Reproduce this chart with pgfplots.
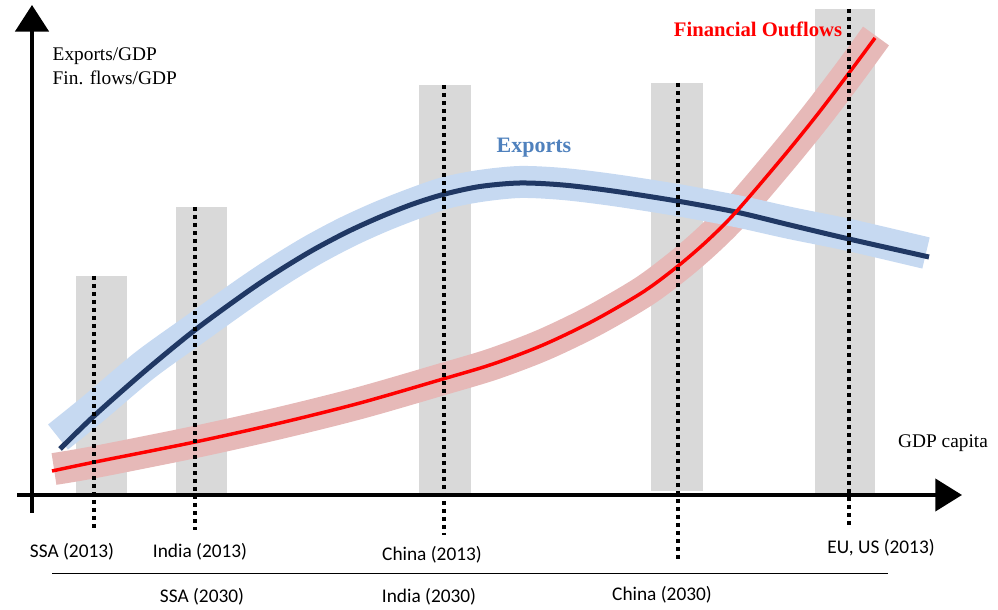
\documentclass[border=0pt]{standalone}
\usepackage{pgfplots}
\pgfplotsset{compat=1.18}
\usepackage{fontspec}
\setmainfont{Liberation Serif}
\newfontfamily\calib{Carlito}
\usetikzlibrary{arrows.meta}
\definecolor{barg}{HTML}{D9D9D9}
\definecolor{navy}{HTML}{203864}
\definecolor{bband}{HTML}{C6D9F1}
\definecolor{pband}{HTML}{E6B9B8}
\definecolor{expblue}{HTML}{4F81BD}
\definecolor{fred}{HTML}{FF0000}
\begin{document}
\begin{tikzpicture}
\begin{axis}[x=0.75pt, y=0.75pt, xmin=0, xmax=998, ymin=0, ymax=608,
  hide axis, clip=false]
\path (axis cs:0,0) rectangle (axis cs:998,608);
% bars
\addplot[fill=barg, draw=none] coordinates {(76,115) (127,115) (127,332) (76,332)} --cycle;
\addplot[fill=barg, draw=none] coordinates {(176,115) (227,115) (227,401) (176,401)} --cycle;
\addplot[fill=barg, draw=none] coordinates {(419,115) (471,115) (471,523) (419,523)} --cycle;
\addplot[fill=barg, draw=none] coordinates {(651,117) (703,117) (703,525) (651,525)} --cycle;
\addplot[fill=barg, draw=none] coordinates {(815,115) (875,115) (875,599) (815,599)} --cycle;
% bands
\addplot[pband, line width=24pt, smooth, tension=0.5] coordinates {
(54,139) (95,146) (195,166) (280,185) (360,205) (443,229) (493,244) (543,263) (593,287) (643,316) (678,342) (707,367) (736,396) (783,451) (817,493) (849,535) (876,572)};
\addplot[bband, line width=24pt, smooth, tension=0.5] coordinates {
(58,171) (94,200) (145,243) (195,279) (247,316) (280,338) (313,358) (347,376) (380,391) (413,404) (445,415) (480,422) (520,426) (563,424) (613,418) (677,408) (736,397) (790,385) (849,373) (926,355)};
% lines
\addplot[navy, line width=3.75pt, smooth, tension=0.5] coordinates {
(60,159) (94,192) (145,237) (195,278) (247,316) (280,338) (313,358) (347,376) (380,391) (413,404) (445,414) (480,421.5) (520,425) (563,423) (613,417) (677,407) (736,396) (790,383) (849,369) (929,351)};
\addplot[fred, line width=2.6pt, smooth, tension=0.5] coordinates {
(52,137) (95,146) (195,166) (280,185) (360,205) (443,229) (493,244) (543,263) (593,287) (643,316) (678,342) (707,367) (736,396) (783,451) (817,493) (849,535) (875,570)};
% dotted verticals
\addplot[black, line width=3pt, dash pattern=on 3pt off 3pt] coordinates {(94,332) (94,78)};
\addplot[black, line width=3pt, dash pattern=on 3pt off 3pt] coordinates {(195,401) (195,78)};
\addplot[black, line width=3pt, dash pattern=on 3pt off 3pt] coordinates {(444,523) (444,73)};
\addplot[black, line width=3pt, dash pattern=on 3pt off 3pt] coordinates {(678,525) (678,46)};
\addplot[black, line width=3pt, dash pattern=on 3pt off 3pt] coordinates {(849,599) (849,81)};
% axes
\addplot[black, line width=3pt, -{Triangle[length=20pt,width=25pt]}] coordinates {(32,95) (32,603)};
\addplot[black, line width=3pt, -{Triangle[length=20pt,width=24pt]}] coordinates {(17,113) (962,113)};
\addplot[black, line width=0.75pt] coordinates {(52,34) (888,34)};
% texts
\node[anchor=west, align=left, font=\fontsize{14.5}{16.5}\selectfont] at (axis cs:48,552) {Exports/GDP};
\node[anchor=west, align=left, font=\fontsize{14.5}{16.5}\selectfont] at (axis cs:48,530) {Fin. flows/GDP};
\node[font=\fontsize{14.5}{16.5}\selectfont] at (axis cs:943,165) {GDP capita};
\node[font=\fontsize{16.5}{18}\selectfont\bfseries, text=expblue] at (axis cs:534,460) {Exports};
\node[font=\fontsize{15.5}{18}\selectfont\bfseries, text=fred] at (axis cs:758,579) {Financial Outflows};
\node[font=\calib\fontsize{14.5}{16}\selectfont] at (axis cs:72,56) {SSA (2013)};
\node[font=\calib\fontsize{14.5}{16}\selectfont] at (axis cs:200,56) {India (2013)};
\node[font=\calib\fontsize{14.5}{16}\selectfont] at (axis cs:432,53) {China (2013)};
\node[font=\calib\fontsize{14.5}{16}\selectfont] at (axis cs:881,60) {EU, US (2013)};
\node[font=\calib\fontsize{14.5}{16}\selectfont] at (axis cs:202,11) {SSA (2030)};
\node[font=\calib\fontsize{14.5}{16}\selectfont] at (axis cs:429,11) {India (2030)};
\node[font=\calib\fontsize{14.5}{16}\selectfont] at (axis cs:662,13) {China (2030)};
\end{axis}
\end{tikzpicture}
\end{document}
